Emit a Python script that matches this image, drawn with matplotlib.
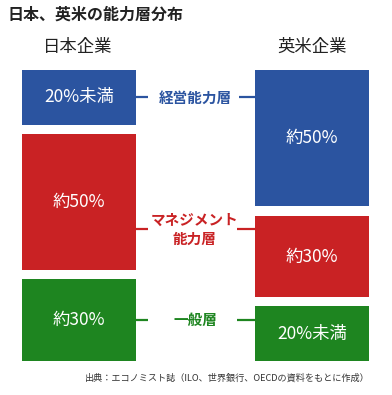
import matplotlib
matplotlib.use('Agg')
import matplotlib.pyplot as plt
import numpy as np

plt.rcParams['font.family'] = ['Noto Sans CJK JP', 'DejaVu Sans']

# --- Data ---
companies = ["日本企業", "英米企業"]
layers = ["経営能力層", "マネジメント\n能力層", "一般層"]
japan = [20, 50, 30]          # share of each layer (%)
anglo = [50, 30, 20]
japan_labels = ["20%未満", "約50%", "約30%"]
anglo_labels = ["約50%", "約30%", "20%未満"]
colors = ["#2b54a0", "#c92224", "#1e8520"]
source = "出典：エコノミスト誌（ILO、世界銀行、OECDの資料をもとに作成）"

gap = 3.3      # white gap between stacked blocks (same units as %)
width = 0.489  # bar width in x units (bar centres at 0 and 1)

fig = plt.figure(figsize=(3.92, 3.95), dpi=100)
W, H = 392, 395
# axes spans the bar area: x 22..369 px, y 70..361 px
ax = fig.add_axes([22 / W, 1 - 361 / H, 347 / W, 291 / H])
ax.set_xlim(-width / 2, 1 + width / 2)
ax.set_ylim(100 + 2 * gap, 0)
ax.axis('off')


def stack(vals):
    bottoms, b = [], 0.0
    for v in vals:
        bottoms.append(b)
        b += v + gap
    return bottoms


jb = stack(japan)
ab = stack(anglo)
for i in range(3):
    ax.bar(0, japan[i], bottom=jb[i], width=width, color=colors[i], align='center')
    ax.bar(1, anglo[i], bottom=ab[i], width=width, color=colors[i], align='center')
    ax.text(0, jb[i] + japan[i] / 2, japan_labels[i], color='white',
            ha='center', va='center', fontsize=12.5)
    ax.text(1, ab[i] + anglo[i] / 2, anglo_labels[i], color='white',
            ha='center', va='center', fontsize=12.5)

# connector labels between the columns
jc = [b + v / 2 for b, v in zip(jb, japan)]
ac = [b + v / 2 for b, v in zip(ab, anglo)]
conn_y = [jc[0], (jc[1] + ac[1]) / 2, jc[2]]
right_start = [0.687, 0.678, 0.678]
for i, lab in enumerate(layers):
    y = conn_y[i]
    ax.plot([width / 2, 0.296], [y, y], color=colors[i], lw=1.6,
            solid_capstyle='butt')
    ax.plot([right_start[i], 1 - width / 2], [y, y], color=colors[i], lw=1.6,
            solid_capstyle='butt')
    ax.text(0.498, y, lab, color=colors[i], ha='center', va='center',
            fontsize=10.5, fontweight='bold', linespacing=1.2)

fig.text(8 / W, 1 - 15 / H, "日本、英米の能力層分布", fontsize=11.5, fontweight='bold',
         color='#222222', ha='left', va='center')
fig.text(78 / W, 1 - 47 / H, companies[0], fontsize=12.5, color='#222222',
         ha='center', va='center')
fig.text(312 / W, 1 - 47 / H, companies[1], fontsize=12.5, color='#222222',
         ha='center', va='center')
fig.text(370 / W, 1 - 378 / H, source, fontsize=6.6, color='#333333',
         ha='right', va='center')

fig.savefig("out.png", dpi=100)
